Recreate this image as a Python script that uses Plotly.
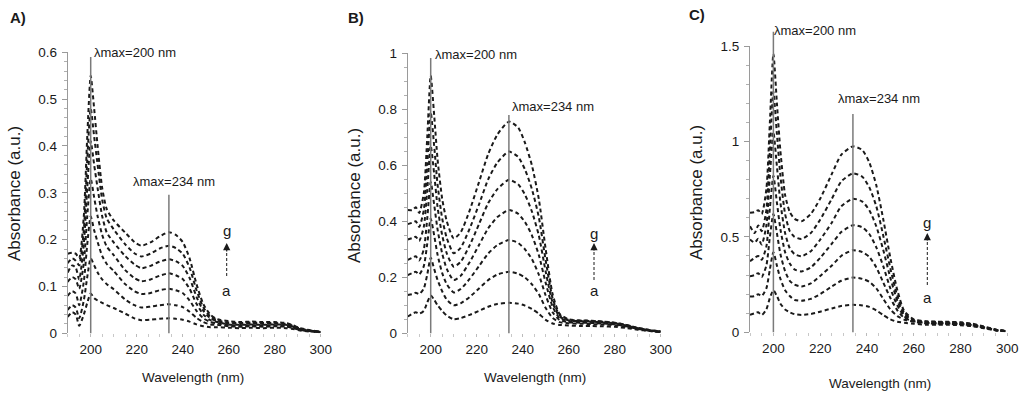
import plotly.graph_objects as go

# ---------------- data ----------------
CURVE_NAMES = ["a", "b", "c", "d", "e", "f", "g"]

WL_A = [190, 192, 193.5, 195, 197, 198.5, 200, 201.5, 203, 205, 207, 210, 215, 219, 222, 226, 230, 234,
        237, 240, 243, 246, 249, 252, 255, 260, 265, 270, 275, 280, 285, 288, 291, 295, 300]
A_a = [0.035, 0.045, 0.04, 0.016, 0.04, 0.065, 0.085, 0.075, 0.07, 0.065, 0.06, 0.054, 0.042, 0.032, 0.028, 0.029, 0.031, 0.032,
       0.031, 0.029, 0.025, 0.019, 0.015, 0.013, 0.013, 0.012, 0.011, 0.012, 0.011, 0.012, 0.011, 0.009, 0.006, 0.004, 0.002]
A_b = [0.05, 0.06, 0.055, 0.032, 0.07, 0.12, 0.16, 0.145, 0.13, 0.115, 0.105, 0.094, 0.072, 0.06, 0.055, 0.057, 0.06, 0.062,
       0.06, 0.056, 0.046, 0.033, 0.024, 0.019, 0.018, 0.015, 0.014, 0.015, 0.014, 0.015, 0.014, 0.011, 0.007, 0.005, 0.003]
A_c = [0.08, 0.09, 0.085, 0.06, 0.11, 0.19, 0.25, 0.22, 0.195, 0.165, 0.148, 0.133, 0.105, 0.09, 0.084, 0.086, 0.092, 0.095,
       0.092, 0.086, 0.07, 0.048, 0.032, 0.024, 0.021, 0.017, 0.016, 0.017, 0.016, 0.017, 0.016, 0.013, 0.008, 0.005, 0.003]
A_d = [0.11, 0.12, 0.115, 0.095, 0.15, 0.25, 0.33, 0.29, 0.25, 0.21, 0.185, 0.167, 0.135, 0.118, 0.111, 0.115, 0.123, 0.128,
       0.124, 0.116, 0.095, 0.063, 0.04, 0.028, 0.024, 0.019, 0.018, 0.019, 0.018, 0.019, 0.018, 0.014, 0.009, 0.006, 0.003]
A_e = [0.13, 0.145, 0.14, 0.115, 0.19, 0.31, 0.41, 0.36, 0.31, 0.25, 0.215, 0.194, 0.165, 0.147, 0.139, 0.144, 0.153, 0.158,
       0.154, 0.144, 0.118, 0.078, 0.048, 0.032, 0.026, 0.021, 0.02, 0.021, 0.02, 0.021, 0.019, 0.015, 0.01, 0.006, 0.003]
A_f = [0.15, 0.16, 0.155, 0.145, 0.22, 0.37, 0.48, 0.42, 0.36, 0.285, 0.245, 0.222, 0.19, 0.171, 0.164, 0.17, 0.181, 0.187,
       0.182, 0.17, 0.14, 0.092, 0.055, 0.036, 0.028, 0.023, 0.022, 0.023, 0.022, 0.022, 0.02, 0.016, 0.01, 0.006, 0.003]
A_g = [0.17, 0.172, 0.17, 0.16, 0.25, 0.42, 0.55, 0.48, 0.40, 0.31, 0.265, 0.241, 0.215, 0.195, 0.187, 0.194, 0.207, 0.216,
       0.21, 0.195, 0.16, 0.105, 0.062, 0.04, 0.03, 0.026, 0.024, 0.025, 0.024, 0.024, 0.022, 0.017, 0.011, 0.007, 0.003]

WL_B = [190, 192, 193.5, 195, 197, 198.5, 200, 201.5, 203, 205, 207, 210, 213, 217, 221, 225, 229, 234,
        238, 241, 244, 247, 250, 253, 256, 260, 265, 270, 275, 280, 285, 290, 295, 300]
B_a = [0.06, 0.07, 0.075, 0.07, 0.08, 0.11, 0.135, 0.12, 0.1, 0.08, 0.063, 0.05, 0.054, 0.066, 0.08, 0.095, 0.105, 0.109,
       0.106, 0.099, 0.087, 0.07, 0.048, 0.035, 0.03, 0.028, 0.026, 0.026, 0.025, 0.023, 0.019, 0.013, 0.008, 0.004]
B_b = [0.137, 0.14, 0.145, 0.14, 0.16, 0.21, 0.27, 0.23, 0.19, 0.15, 0.12, 0.10, 0.107, 0.13, 0.16, 0.19, 0.21, 0.22,
       0.213, 0.199, 0.175, 0.14, 0.09, 0.055, 0.04, 0.036, 0.034, 0.033, 0.031, 0.029, 0.023, 0.015, 0.009, 0.005]
B_c = [0.208, 0.215, 0.22, 0.21, 0.24, 0.32, 0.41, 0.35, 0.28, 0.215, 0.175, 0.146, 0.158, 0.195, 0.24, 0.285, 0.315, 0.333,
       0.323, 0.30, 0.265, 0.21, 0.135, 0.075, 0.048, 0.04, 0.038, 0.037, 0.035, 0.032, 0.025, 0.016, 0.01, 0.005]
B_d = [0.262, 0.27, 0.275, 0.26, 0.30, 0.41, 0.54, 0.46, 0.37, 0.285, 0.23, 0.19, 0.205, 0.255, 0.315, 0.375, 0.415, 0.44,
       0.427, 0.397, 0.35, 0.28, 0.18, 0.095, 0.055, 0.044, 0.041, 0.04, 0.037, 0.034, 0.027, 0.017, 0.01, 0.006]
B_e = [0.335, 0.34, 0.345, 0.33, 0.38, 0.51, 0.67, 0.57, 0.45, 0.35, 0.285, 0.238, 0.255, 0.315, 0.39, 0.465, 0.515, 0.548,
       0.532, 0.495, 0.435, 0.35, 0.22, 0.11, 0.06, 0.046, 0.043, 0.042, 0.039, 0.036, 0.028, 0.018, 0.011, 0.006]
B_f = [0.39, 0.395, 0.40, 0.38, 0.44, 0.60, 0.79, 0.67, 0.53, 0.41, 0.34, 0.286, 0.305, 0.375, 0.46, 0.55, 0.61, 0.649,
       0.63, 0.585, 0.515, 0.415, 0.26, 0.125, 0.065, 0.048, 0.045, 0.044, 0.041, 0.037, 0.03, 0.019, 0.011, 0.006]
B_g = [0.44, 0.44, 0.45, 0.43, 0.50, 0.70, 0.92, 0.78, 0.62, 0.48, 0.40, 0.339, 0.36, 0.44, 0.54, 0.64, 0.71, 0.756,
       0.735, 0.68, 0.60, 0.48, 0.30, 0.14, 0.07, 0.05, 0.046, 0.045, 0.042, 0.038, 0.03, 0.02, 0.012, 0.007]

WL_C = [190, 192, 193.5, 195, 197, 198.5, 200, 201.5, 203, 205, 207, 209, 212, 216, 220, 225, 229, 234,
        238, 241, 244, 247, 250, 253, 256, 260, 265, 270, 275, 280, 285, 290, 295, 300]
C_a = [0.091, 0.10, 0.105, 0.09, 0.12, 0.18, 0.22, 0.19, 0.15, 0.12, 0.105, 0.095, 0.091, 0.096, 0.108, 0.125, 0.138, 0.144,
       0.141, 0.133, 0.115, 0.09, 0.068, 0.055, 0.05, 0.045, 0.04, 0.04, 0.039, 0.037, 0.032, 0.021, 0.01, 0.004]
C_b = [0.187, 0.19, 0.20, 0.19, 0.23, 0.33, 0.42, 0.35, 0.28, 0.22, 0.19, 0.17, 0.165, 0.175, 0.20, 0.24, 0.27, 0.287,
       0.28, 0.265, 0.23, 0.175, 0.12, 0.085, 0.066, 0.055, 0.047, 0.045, 0.044, 0.042, 0.036, 0.024, 0.011, 0.005]
C_c = [0.293, 0.30, 0.31, 0.29, 0.35, 0.50, 0.62, 0.52, 0.41, 0.32, 0.27, 0.25, 0.24, 0.256, 0.295, 0.35, 0.40, 0.43,
       0.42, 0.395, 0.34, 0.26, 0.18, 0.115, 0.075, 0.058, 0.05, 0.048, 0.047, 0.044, 0.038, 0.025, 0.012, 0.005]
C_d = [0.372, 0.39, 0.40, 0.38, 0.45, 0.65, 0.82, 0.68, 0.54, 0.42, 0.36, 0.33, 0.319, 0.34, 0.39, 0.465, 0.525, 0.561,
       0.55, 0.515, 0.445, 0.345, 0.23, 0.14, 0.083, 0.06, 0.052, 0.05, 0.049, 0.046, 0.04, 0.026, 0.012, 0.005]
C_e = [0.486, 0.47, 0.49, 0.46, 0.56, 0.82, 1.05, 0.87, 0.68, 0.52, 0.44, 0.41, 0.398, 0.425, 0.485, 0.575, 0.66, 0.70,
       0.685, 0.64, 0.555, 0.43, 0.285, 0.165, 0.09, 0.062, 0.054, 0.052, 0.051, 0.048, 0.041, 0.027, 0.013, 0.005]
C_f = [0.556, 0.52, 0.56, 0.53, 0.64, 0.95, 1.26, 1.04, 0.82, 0.62, 0.53, 0.50, 0.489, 0.52, 0.59, 0.70, 0.79, 0.833,
       0.815, 0.76, 0.66, 0.505, 0.335, 0.19, 0.10, 0.065, 0.056, 0.054, 0.053, 0.05, 0.043, 0.028, 0.014, 0.006]
C_g = [0.626, 0.63, 0.64, 0.62, 0.75, 1.10, 1.46, 1.20, 0.95, 0.72, 0.63, 0.595, 0.582, 0.62, 0.70, 0.83, 0.93, 0.974,
       0.955, 0.89, 0.77, 0.59, 0.39, 0.22, 0.11, 0.068, 0.058, 0.056, 0.055, 0.052, 0.045, 0.03, 0.015, 0.006]

X_RANGE = [190, 300]
X_TICKS = [200, 220, 240, 260, 280, 300]
PEAK_WL = [200, 234]
PANEL_LETTERS = ["A)", "B)", "C)"]
X_TITLE = "Wavelength (nm)"
Y_TITLE = "Absorbance (a.u.)"

# ---------------- layout helpers ----------------
W, H = 1027, 393
FONT = "Liberation Sans, Arial, sans-serif"
INK = "#1a1a1a"
GREY = "#7a7a7a"
TXT = 13

panels = [
    dict(wl=WL_A, series=[A_a, A_b, A_c, A_d, A_e, A_f, A_g], yr=[0, 0.6], dt=0.1, mdt=0.02,
         px=(67.7, 320.7), py=(52.3, 333.3),
         line_top=[0.59, 0.296],
         lab=[(200, 0.599, "left", 1), (236.2, 0.324, "center", 0)],
         letter=(18, 18), ytitle=(14, 194), xtitle=(193, 377),
         arrow=dict(x=226.7, g=230, tip=243, base=253, end=277, a=290)),
    dict(wl=WL_B, series=[B_a, B_b, B_c, B_d, B_e, B_f, B_g], yr=[0, 1.0], dt=0.2, mdt=0.05,
         px=(407.7, 660.7), py=(53.3, 333.3),
         line_top=[0.983, 0.78],
         lab=[(200, 0.994, "left", 2), (234, 0.809, "left", 1)],
         letter=(356, 18), ytitle=(354, 196), xtitle=(535, 377),
         arrow=dict(x=594, g=233, tip=243, base=252, end=280, a=290)),
    dict(wl=WL_C, series=[C_a, C_b, C_c, C_d, C_e, C_f, C_g], yr=[0, 1.5], dt=0.5, mdt=0.1,
         px=(750.0, 1007.3), py=(46.0, 332.3),
         line_top=[1.575, 1.144],
         lab=[(200, 1.582, "left", -1), (245, 1.223, "center", 0)],
         letter=(697, 15), ytitle=(696, 193), xtitle=(880, 383),
         arrow=dict(x=927.3, g=222, tip=233, base=242, end=285, a=297)),
]


def frac(v, rng):
    return (v - rng[0]) / (rng[1] - rng[0])


fig = go.Figure()
shapes = []
annotations = []
layout_axes = {}

for i, p in enumerate(panels):
    n = "" if i == 0 else str(i + 1)
    xa, ya = "x" + n, "y" + n
    for name, ys in zip(CURVE_NAMES, p["series"]):
        fig.add_trace(go.Scatter(
            x=p["wl"], y=ys, xaxis=xa, yaxis=ya, mode="lines", name=name,
            line=dict(color=INK, width=2, dash="4px,3px", shape="spline", smoothing=0.6),
            showlegend=False, hoverinfo="skip"))

    dx = [p["px"][0] / W, p["px"][1] / W]
    dy = [1 - p["py"][1] / H, 1 - p["py"][0] / H]
    axfont = dict(family=FONT, size=TXT + 0.5, color=INK)
    layout_axes["xaxis" + n] = dict(
        domain=dx, range=X_RANGE, anchor=ya, showgrid=False, zeroline=False, showline=False,
        automargin=False,
        tickvals=X_TICKS, ticks="outside", ticklen=3, tickcolor="#bbbbbb", tickfont=axfont,
        minor=dict(dtick=5, tick0=190, ticks="outside", ticklen=3, tickcolor="#c8c8c8"),
    )
    layout_axes["yaxis" + n] = dict(
        domain=dy, range=p["yr"], anchor=xa, showgrid=False, zeroline=False, showline=True,
        automargin=False,
        linecolor="#9a9a9a", linewidth=1, dtick=p["dt"], tick0=0, ticks="outside", ticklen=5,
        tickcolor="#9a9a9a", tickfont=axfont, ticklabelstandoff=2,
        minor=dict(dtick=p["mdt"], ticks="outside", ticklen=3, tickcolor="#b0b0b0"),
    )
    # ghost axis giving the inner half of the crossing tick marks
    gid = str(i + 4)
    layout_axes["yaxis" + gid] = dict(
        domain=dy, range=p["yr"], anchor=xa, overlaying=ya, showgrid=False, zeroline=False,
        automargin=False,
        showline=False, showticklabels=False, dtick=p["dt"], tick0=0, ticks="inside", ticklen=3,
        tickcolor="#9a9a9a", minor=dict(dtick=p["mdt"], ticks="inside", ticklen=3, tickcolor="#b0b0b0"),
    )

    # lambda-max vertical markers
    for wl, top in zip(PEAK_WL, p["line_top"]):
        shapes.append(dict(type="line", xref=xa + " domain", yref=ya + " domain",
                           x0=frac(wl, X_RANGE), x1=frac(wl, X_RANGE), y0=0, y1=frac(top, p["yr"]),
                           line=dict(color=GREY, width=1.5), layer="above"))
    for wl, (lx, ly, anc, sh) in zip(PEAK_WL, p["lab"]):
        annotations.append(dict(text="λmax=%d nm" % wl, xref=xa + " domain", yref=ya + " domain",
                                x=frac(lx, X_RANGE), y=frac(ly, p["yr"]), xanchor=anc, yanchor="middle",
                                xshift=sh, showarrow=False, font=dict(family=FONT, size=TXT, color=INK)))

    # panel letter
    annotations.append(dict(text="<b>%s</b>" % PANEL_LETTERS[i], xref="paper", yref="paper",
                            x=p["letter"][0] / W, y=1 - p["letter"][1] / H, xanchor="center", yanchor="middle",
                            showarrow=False, font=dict(family=FONT, size=15, color=INK)))
    # axis titles
    annotations.append(dict(text=Y_TITLE, xref="paper", yref="paper", textangle=-90,
                            x=p["ytitle"][0] / W, y=1 - p["ytitle"][1] / H, xanchor="center", yanchor="middle",
                            showarrow=False, font=dict(family=FONT, size=17, color=INK)))
    annotations.append(dict(text=X_TITLE, xref="paper", yref="paper",
                            x=p["xtitle"][0] / W, y=1 - p["xtitle"][1] / H, xanchor="center", yanchor="middle",
                            showarrow=False, font=dict(family=FONT, size=TXT + 0.5, color=INK)))

    # a -> g arrow
    ar = p["arrow"]
    axp = ar["x"] / W
    annotations.append(dict(text="g", xref="paper", yref="paper", x=axp, y=1 - ar["g"] / H,
                            xanchor="center", yanchor="middle", showarrow=False,
                            font=dict(family=FONT, size=15, color=INK)))
    annotations.append(dict(text="a", xref="paper", yref="paper", x=axp, y=1 - ar["a"] / H,
                            xanchor="center", yanchor="middle", showarrow=False,
                            font=dict(family=FONT, size=15, color=INK)))
    annotations.append(dict(text="", xref="paper", yref="paper", x=axp, y=1 - ar["tip"] / H,
                            ax=0, ay=ar["base"] - ar["tip"], showarrow=True, arrowhead=2,
                            arrowsize=1.2, arrowwidth=1.2, arrowcolor=INK))
    shapes.append(dict(type="line", xref="paper", yref="paper", x0=axp, x1=axp,
                       y0=1 - ar["base"] / H, y1=1 - ar["end"] / H,
                       line=dict(color=INK, width=1, dash="3px,2px")))

fig.update_layout(
    width=W, height=H, margin=dict(l=0, r=0, t=0, b=0, pad=0, autoexpand=False),
    paper_bgcolor="white", plot_bgcolor="white",
    shapes=shapes, annotations=annotations, showlegend=False,
    **layout_axes,
)

fig.write_html(
    "out.html",
    config={"displayModeBar": False, "staticPlot": True},
    post_script=(
        "document.documentElement.style.margin='0';document.body.style.margin='0';"
        "document.documentElement.style.overflow='hidden';document.body.style.overflow='hidden';"
        "var d=document.getElementById('{plot_id}');d.style.position='fixed';"
        "d.style.left='0px';d.style.top='0px';"
    ),
)
